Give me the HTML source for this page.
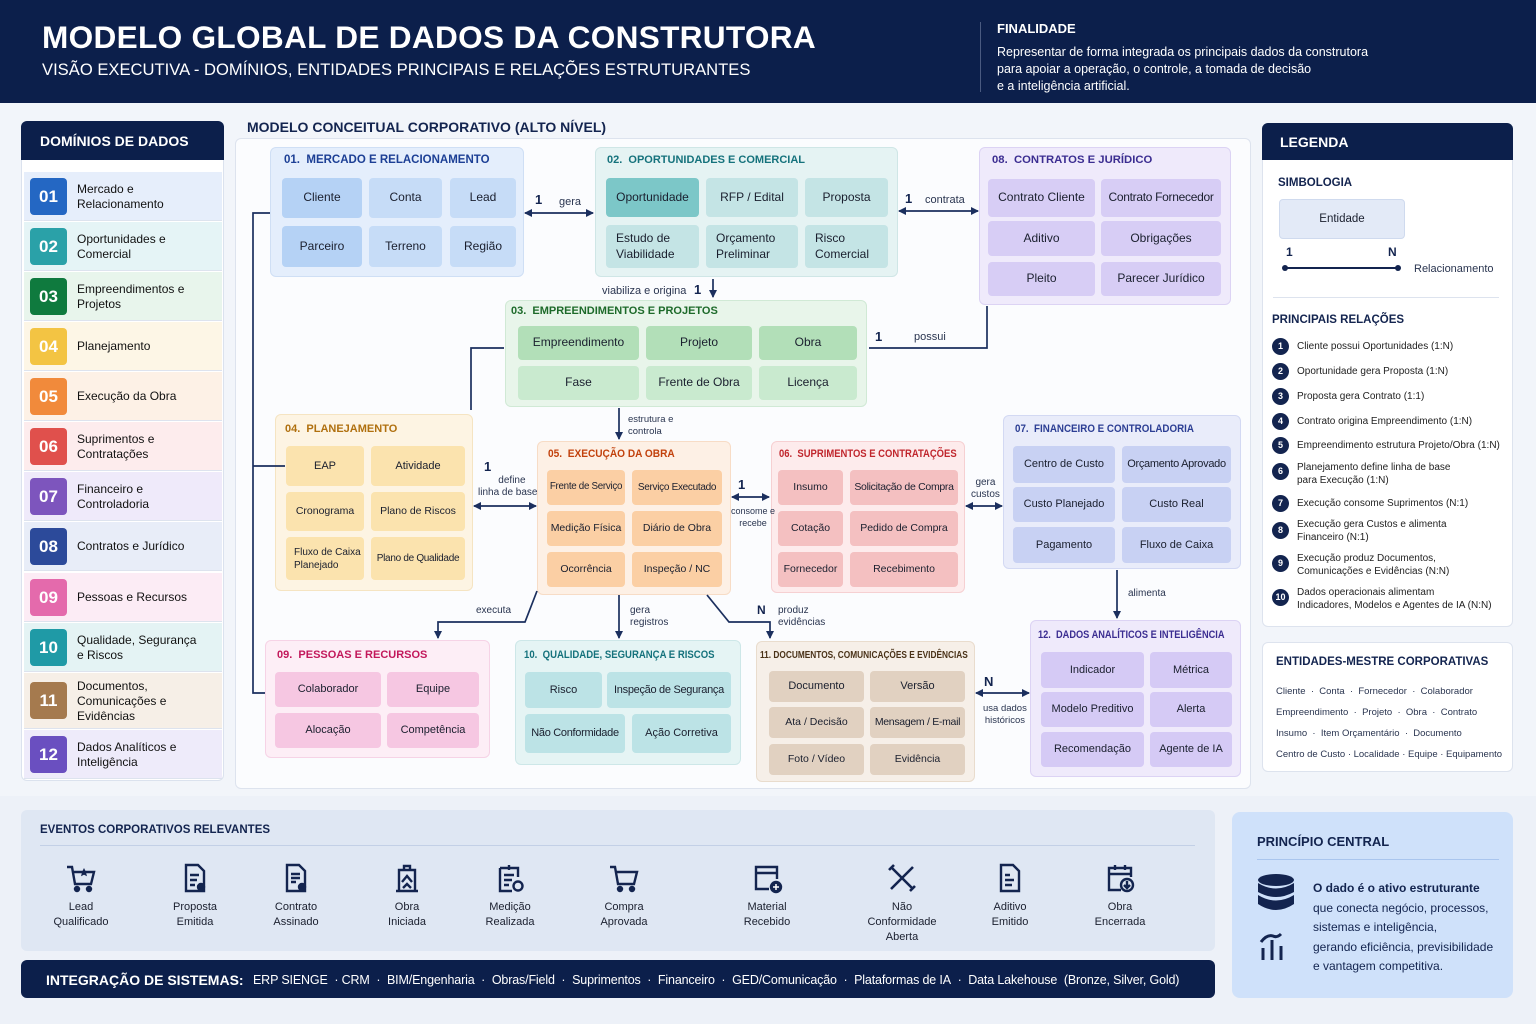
<!DOCTYPE html>
<html><head><meta charset="utf-8">
<style>
*{margin:0;padding:0;box-sizing:border-box}
body{width:1536px;height:1024px;position:relative;overflow:hidden;background:#f2f5fa;font-family:"Liberation Sans",sans-serif;color:#1a1f2e}
.a{position:absolute}
.e{position:absolute;display:flex;align-items:center;justify-content:center;text-align:center;border-radius:4px;font-size:12px;color:#1a1f2e;line-height:1.3}
.el{justify-content:flex-start;text-align:left;padding-left:10px}
.d{position:absolute;border-radius:6px}
.t{position:absolute;font-size:11px;font-weight:bold;white-space:nowrap;transform-origin:left center}
.lb{position:absolute;font-size:10px;color:#2a3550;line-height:12px;white-space:nowrap}
.n{position:absolute;font-size:13px;font-weight:bold;color:#13244f}
.row{position:absolute;left:24px;width:198px;height:49px;border-bottom:1px solid #dde3ee}
.num{position:absolute;left:6px;top:6px;width:37px;height:37px;border-radius:4px;color:#fff;font-weight:bold;font-size:17px;display:flex;align-items:center;justify-content:center}
.rt{position:absolute;left:53px;top:0;height:49px;display:flex;align-items:center;font-size:12px;color:#111;line-height:15px}
.ri{position:absolute;left:1272px;font-size:10px;color:#222;line-height:13px}
.ri b{position:absolute;left:0;width:17px;height:17px;border-radius:50%;background:#13244f;color:#fff;font-size:9px;display:flex;align-items:center;justify-content:center}
.ri span{position:absolute;left:25px;white-space:nowrap}
.ev{position:absolute;width:120px;text-align:center;font-size:11px;line-height:15px;color:#1a1f2e}
.ev svg{display:block;margin:0 auto 6px}
.nw{white-space:nowrap;letter-spacing:-0.3px}
</style></head><body>

<!-- Header -->
<div class="a" style="left:0;top:0;width:1536px;height:103px;background:#0c1f4b"></div>
<div class="a" style="left:42px;top:19px;font-size:31.6px;font-weight:bold;color:#fff;letter-spacing:0.3px">MODELO GLOBAL DE DADOS DA CONSTRUTORA</div>
<div class="a" style="left:42px;top:60px;font-size:16.6px;color:#fff">VISÃO EXECUTIVA - DOMÍNIOS, ENTIDADES PRINCIPAIS E RELAÇÕES ESTRUTURANTES</div>
<div class="a" style="left:980px;top:22px;width:1px;height:70px;background:#4a5a80"></div>
<div class="a" style="left:997px;top:21px;font-size:13px;font-weight:bold;color:#fff">FINALIDADE</div>
<div class="a" style="left:997px;top:44px;font-size:12.5px;color:#fff;line-height:17px">Representar de forma integrada os principais dados da construtora<br>para apoiar a operação, o controle, a tomada de decisão<br>e a inteligência artificial.</div>

<!-- Sidebar -->
<div class="d" style="left:21px;top:121px;width:203px;height:660px;background:#fff;border:1px solid #dbe2ee"></div>
<div class="a" style="left:21px;top:121px;width:203px;height:39px;background:#0c1f4b;border-radius:6px 6px 0 0"></div>
<div class="a" style="left:40px;top:133px;font-size:14px;font-weight:bold;color:#fff">DOMÍNIOS DE DADOS</div>

<div class="row" style="top:172px;background:#e6eefb"><div class="num" style="background:#2467c3">01</div><div class="rt">Mercado e<br>Relacionamento</div></div>
<div class="row" style="top:222px;background:#e5f4f6"><div class="num" style="background:#2aa1a8">02</div><div class="rt">Oportunidades e<br>Comercial</div></div>
<div class="row" style="top:272px;background:#e8f5ec"><div class="num" style="background:#0f7a3e">03</div><div class="rt">Empreendimentos e<br>Projetos</div></div>
<div class="row" style="top:322px;background:#fdf6e6"><div class="num" style="background:#f3c443">04</div><div class="rt">Planejamento</div></div>
<div class="row" style="top:372px;background:#fdf1e6"><div class="num" style="background:#f18a3b">05</div><div class="rt">Execução da Obra</div></div>
<div class="row" style="top:422px;background:#fdeced"><div class="num" style="background:#e0504c">06</div><div class="rt">Suprimentos e<br>Contratações</div></div>
<div class="row" style="top:472px;background:#efeafa"><div class="num" style="background:#7d55bd">07</div><div class="rt">Financeiro e<br>Controladoria</div></div>
<div class="row" style="top:522px;background:#e8edf8"><div class="num" style="background:#2c4a9a">08</div><div class="rt">Contratos e Jurídico</div></div>
<div class="row" style="top:573px;background:#fcecf5"><div class="num" style="background:#e46aac">09</div><div class="rt">Pessoas e Recursos</div></div>
<div class="row" style="top:623px;background:#e4f3f4"><div class="num" style="background:#1f9aa6">10</div><div class="rt">Qualidade, Segurança<br>e Riscos</div></div>
<div class="row" style="top:673px;height:56px;background:#f6efe7"><div class="num" style="background:#a57a4e;top:9px">11</div><div class="rt" style="height:56px">Documentos,<br>Comunicações e<br>Evidências</div></div>
<div class="row" style="top:730px;background:#eeebfa"><div class="num" style="background:#6a4fc0">12</div><div class="rt">Dados Analíticos e<br>Inteligência</div></div>

<!-- Central panel -->
<div class="a" style="left:247px;top:119px;font-size:14px;font-weight:bold;color:#13244f">MODELO CONCEITUAL CORPORATIVO (ALTO NÍVEL)</div>
<div class="d" style="left:235px;top:138px;width:1016px;height:651px;background:#fbfcfe;border:1px solid #dde3ee"></div>

<!-- 01 -->
<div class="d" style="left:270px;top:147px;width:254px;height:130px;background:#e4eefc;border:1px solid #cfdff5"></div>
<div class="t" style="left:284px;top:154px;color:#1c3f95;font-size:11.5px">01.&nbsp; MERCADO E RELACIONAMENTO</div>
<div class="e" style="left:282px;top:178px;width:80px;height:40px;background:#b5d2f5">Cliente</div>
<div class="e" style="left:369px;top:178px;width:73px;height:40px;background:#c6dcf7">Conta</div>
<div class="e" style="left:450px;top:178px;width:66px;height:40px;background:#c6dcf7">Lead</div>
<div class="e" style="left:282px;top:226px;width:80px;height:41px;background:#b5d2f5">Parceiro</div>
<div class="e" style="left:369px;top:226px;width:73px;height:41px;background:#c6dcf7">Terreno</div>
<div class="e" style="left:450px;top:226px;width:66px;height:41px;background:#c6dcf7">Região</div>

<!-- 02 -->
<div class="d" style="left:595px;top:147px;width:303px;height:130px;background:#e5f3f3;border:1px solid #cfe6e6"></div>
<div class="t" style="left:607px;top:154px;color:#15727c">02.&nbsp; OPORTUNIDADES E COMERCIAL</div>
<div class="e" style="left:606px;top:178px;width:93px;height:39px;background:#7cc7c8">Oportunidade</div>
<div class="e" style="left:706px;top:178px;width:92px;height:39px;background:#c4e4e5">RFP / Edital</div>
<div class="e" style="left:805px;top:178px;width:83px;height:39px;background:#c4e4e5">Proposta</div>
<div class="e el" style="left:606px;top:225px;width:93px;height:43px;background:#c4e4e5">Estudo de<br>Viabilidade</div>
<div class="e el" style="left:706px;top:225px;width:92px;height:43px;background:#c4e4e5">Orçamento<br>Preliminar</div>
<div class="e el" style="left:805px;top:225px;width:83px;height:43px;background:#c4e4e5">Risco<br>Comercial</div>

<!-- 08 -->
<div class="d" style="left:979px;top:147px;width:252px;height:158px;background:#efeafb;border:1px solid #dcd3f4"></div>
<div class="t" style="left:992px;top:154px;color:#3b2d91;font-size:11.3px">08.&nbsp; CONTRATOS E JURÍDICO</div>
<div class="e" style="left:988px;top:179px;width:107px;height:38px;background:#d7cdf5">Contrato Cliente</div>
<div class="e nw" style="left:1101px;top:179px;width:120px;height:38px;background:#d7cdf5">Contrato Fornecedor</div>
<div class="e" style="left:988px;top:221px;width:107px;height:35px;background:#d7cdf5">Aditivo</div>
<div class="e" style="left:1101px;top:221px;width:120px;height:35px;background:#d7cdf5">Obrigações</div>
<div class="e" style="left:988px;top:262px;width:107px;height:34px;background:#d7cdf5">Pleito</div>
<div class="e" style="left:1101px;top:262px;width:120px;height:34px;background:#d7cdf5">Parecer Jurídico</div>

<!-- 03 -->
<div class="d" style="left:505px;top:300px;width:362px;height:107px;background:#e8f5ea;border:1px solid #d0e9d5"></div>
<div class="t" style="left:511px;top:305px;color:#1d6a2a">03.&nbsp; EMPREENDIMENTOS E PROJETOS</div>
<div class="e" style="left:518px;top:326px;width:121px;height:34px;background:#b2dfb8">Empreendimento</div>
<div class="e" style="left:646px;top:326px;width:106px;height:34px;background:#b2dfb8">Projeto</div>
<div class="e" style="left:759px;top:326px;width:98px;height:34px;background:#b2dfb8">Obra</div>
<div class="e" style="left:518px;top:366px;width:121px;height:34px;background:#c9eacf">Fase</div>
<div class="e" style="left:646px;top:366px;width:106px;height:34px;background:#c9eacf">Frente de Obra</div>
<div class="e" style="left:759px;top:366px;width:98px;height:34px;background:#c9eacf">Licença</div>

<!-- 04 -->
<div class="d" style="left:275px;top:414px;width:198px;height:177px;background:#fdf4e3;border:1px solid #f5e4c2"></div>
<div class="t" style="left:285px;top:423px;color:#b0700f">04.&nbsp; PLANEJAMENTO</div>
<div class="e" style="left:286px;top:446px;width:78px;height:40px;background:#fbe3ae;font-size:11px">EAP</div>
<div class="e" style="left:371px;top:446px;width:94px;height:40px;background:#fbe3ae;font-size:11px">Atividade</div>
<div class="e" style="left:286px;top:492px;width:78px;height:39px;background:#fbe3ae;font-size:10.5px">Cronograma</div>
<div class="e" style="left:371px;top:492px;width:94px;height:39px;background:#fbe3ae;font-size:10.5px">Plano de Riscos</div>
<div class="e el" style="left:286px;top:537px;width:78px;height:43px;background:#fbe3ae;font-size:10px;padding-left:8px">Fluxo de Caixa<br>Planejado</div>
<div class="e nw" style="left:371px;top:537px;width:94px;height:43px;background:#fbe3ae;font-size:10px">Plano de Qualidade</div>

<!-- 05 -->
<div class="d" style="left:537px;top:441px;width:194px;height:154px;background:#fdf0e5;border:1px solid #f7dcc6"></div>
<div class="t" style="left:548px;top:448px;color:#c2410c;transform:scaleX(0.92)">05.&nbsp; EXECUÇÃO DA OBRA</div>
<div class="e nw" style="left:547px;top:470px;width:78px;height:35px;background:#fbcfa4;font-size:9.8px">Frente de Serviço</div>
<div class="e nw" style="left:632px;top:470px;width:90px;height:35px;background:#fbcfa4;font-size:10px">Serviço Executado</div>
<div class="e" style="left:547px;top:511px;width:78px;height:35px;background:#fbcfa4;font-size:10.5px">Medição Física</div>
<div class="e" style="left:632px;top:511px;width:90px;height:35px;background:#fbcfa4;font-size:10.5px">Diário de Obra</div>
<div class="e" style="left:547px;top:552px;width:78px;height:35px;background:#fbcfa4;font-size:10.5px">Ocorrência</div>
<div class="e" style="left:632px;top:552px;width:90px;height:35px;background:#fbcfa4;font-size:10.5px">Inspeção / NC</div>

<!-- 06 -->
<div class="d" style="left:771px;top:441px;width:194px;height:152px;background:#fdebec;border:1px solid #f6d0d2"></div>
<div class="t" style="left:779px;top:448px;color:#c0262d;transform:scaleX(0.86)">06.&nbsp; SUPRIMENTOS E CONTRATAÇÕES</div>
<div class="e" style="left:778px;top:470px;width:65px;height:35px;background:#f4c0c1;font-size:10.5px">Insumo</div>
<div class="e nw" style="left:850px;top:470px;width:108px;height:35px;background:#f4c0c1;font-size:10.5px">Solicitação de Compra</div>
<div class="e" style="left:778px;top:511px;width:65px;height:35px;background:#f4c0c1;font-size:10.5px">Cotação</div>
<div class="e" style="left:850px;top:511px;width:108px;height:35px;background:#f4c0c1;font-size:10.5px">Pedido de Compra</div>
<div class="e" style="left:778px;top:552px;width:65px;height:35px;background:#f4c0c1;font-size:10.5px">Fornecedor</div>
<div class="e" style="left:850px;top:552px;width:108px;height:35px;background:#f4c0c1;font-size:10.5px">Recebimento</div>

<!-- 07 -->
<div class="d" style="left:1003px;top:415px;width:238px;height:154px;background:#e9ecfa;border:1px solid #d3d9f3"></div>
<div class="t" style="left:1015px;top:423px;color:#2c3e94;transform:scaleX(0.89)">07.&nbsp; FINANCEIRO E CONTROLADORIA</div>
<div class="e" style="left:1013px;top:446px;width:102px;height:37px;background:#c8d1f3;font-size:11px">Centro de Custo</div>
<div class="e nw" style="left:1122px;top:446px;width:109px;height:37px;background:#c8d1f3;font-size:11px">Orçamento Aprovado</div>
<div class="e" style="left:1013px;top:487px;width:102px;height:35px;background:#c8d1f3;font-size:11px">Custo Planejado</div>
<div class="e" style="left:1122px;top:487px;width:109px;height:35px;background:#c8d1f3;font-size:11px">Custo Real</div>
<div class="e" style="left:1013px;top:527px;width:102px;height:36px;background:#c8d1f3;font-size:11px">Pagamento</div>
<div class="e" style="left:1122px;top:527px;width:109px;height:36px;background:#c8d1f3;font-size:11px">Fluxo de Caixa</div>

<!-- 09 -->
<div class="d" style="left:265px;top:640px;width:225px;height:118px;background:#fdeef6;border:1px solid #f6d3e6"></div>
<div class="t" style="left:277px;top:649px;color:#c2185b">09.&nbsp; PESSOAS E RECURSOS</div>
<div class="e" style="left:275px;top:672px;width:106px;height:35px;background:#f6c7e2;font-size:11px">Colaborador</div>
<div class="e" style="left:387px;top:672px;width:92px;height:35px;background:#f6c7e2;font-size:11px">Equipe</div>
<div class="e" style="left:275px;top:713px;width:106px;height:35px;background:#f6c7e2;font-size:11px">Alocação</div>
<div class="e" style="left:387px;top:713px;width:92px;height:35px;background:#f6c7e2;font-size:11px">Competência</div>

<!-- 10 -->
<div class="d" style="left:515px;top:640px;width:226px;height:125px;background:#e5f4f4;border:1px solid #cde7e8"></div>
<div class="t" style="left:524px;top:649px;color:#15727c;transform:scaleX(0.87)">10.&nbsp; QUALIDADE, SEGURANÇA E RISCOS</div>
<div class="e" style="left:525px;top:672px;width:77px;height:36px;background:#bce3e6;font-size:11px">Risco</div>
<div class="e nw" style="left:607px;top:672px;width:124px;height:36px;background:#bce3e6;font-size:11px">Inspeção de Segurança</div>
<div class="e nw" style="left:525px;top:714px;width:100px;height:39px;background:#bce3e6;font-size:11px">Não Conformidade</div>
<div class="e" style="left:632px;top:714px;width:99px;height:39px;background:#bce3e6;font-size:11px">Ação Corretiva</div>

<!-- 11 -->
<div class="d" style="left:756px;top:641px;width:219px;height:141px;background:#f6efe8;border:1px solid #e9dccd"></div>
<div class="t" style="left:760px;top:650px;color:#4a3218;font-size:10px;transform:scaleX(0.83)">11. DOCUMENTOS, COMUNICAÇÕES E EVIDÊNCIAS</div>
<div class="e" style="left:769px;top:671px;width:95px;height:31px;background:#e1d1c1;font-size:11px">Documento</div>
<div class="e" style="left:870px;top:671px;width:95px;height:31px;background:#e1d1c1;font-size:11px">Versão</div>
<div class="e" style="left:769px;top:707px;width:95px;height:31px;background:#e1d1c1;font-size:10.5px">Ata / Decisão</div>
<div class="e nw" style="left:870px;top:707px;width:95px;height:31px;background:#e1d1c1;font-size:10.5px">Mensagem / E-mail</div>
<div class="e" style="left:769px;top:744px;width:95px;height:31px;background:#e1d1c1;font-size:10.5px">Foto / Vídeo</div>
<div class="e" style="left:870px;top:744px;width:95px;height:31px;background:#e1d1c1;font-size:10.5px">Evidência</div>

<!-- 12 -->
<div class="d" style="left:1030px;top:620px;width:211px;height:157px;background:#efeafb;border:1px solid #dcd3f4"></div>
<div class="t" style="left:1038px;top:629px;color:#3b2d91;transform:scaleX(0.84)">12.&nbsp; DADOS ANALÍTICOS E INTELIGÊNCIA</div>
<div class="e" style="left:1041px;top:652px;width:103px;height:36px;background:#d5caf5;font-size:11px">Indicador</div>
<div class="e" style="left:1150px;top:652px;width:82px;height:36px;background:#d5caf5;font-size:11px">Métrica</div>
<div class="e" style="left:1041px;top:692px;width:103px;height:35px;background:#d5caf5;font-size:11px">Modelo Preditivo</div>
<div class="e" style="left:1150px;top:692px;width:82px;height:35px;background:#d5caf5;font-size:11px">Alerta</div>
<div class="e" style="left:1041px;top:732px;width:103px;height:35px;background:#d5caf5;font-size:11px">Recomendação</div>
<div class="e" style="left:1150px;top:732px;width:82px;height:35px;background:#d5caf5;font-size:11px">Agente de IA</div>

<!-- Connectors -->
<svg class="a" style="left:0;top:0" width="1536" height="1024" viewBox="0 0 1536 1024">
<defs>
<marker id="ar" markerWidth="8" markerHeight="8" refX="7" refY="4" orient="auto-start-reverse" markerUnits="userSpaceOnUse"><path d="M0,0 L8,4 L0,8 z" fill="#1b2f5e"/></marker>
</defs>
<g stroke="#1b2f5e" stroke-width="1.7" fill="none">
<line x1="525" y1="213" x2="593" y2="213" marker-start="url(#ar)" marker-end="url(#ar)"/>
<line x1="899" y1="211" x2="978" y2="211" marker-start="url(#ar)" marker-end="url(#ar)"/>
<line x1="713" y1="279" x2="713" y2="297" marker-end="url(#ar)"/>
<polyline points="987,306 987,348 869,348"/>
<polyline points="504,348 471,348 471,410"/>
<polyline points="270,213 253,213 253,693 265,693"/>
<line x1="253" y1="466" x2="285" y2="466"/>
<line x1="619" y1="408" x2="619" y2="439" marker-end="url(#ar)"/>
<line x1="474" y1="506" x2="536" y2="506" marker-start="url(#ar)" marker-end="url(#ar)"/>
<line x1="732" y1="497" x2="769" y2="497" marker-start="url(#ar)" marker-end="url(#ar)"/>
<line x1="966" y1="506" x2="1002" y2="506" marker-start="url(#ar)" marker-end="url(#ar)"/>
<line x1="1117" y1="570" x2="1117" y2="618" marker-end="url(#ar)"/>
<line x1="976" y1="693" x2="1029" y2="693" marker-start="url(#ar)" marker-end="url(#ar)"/>
<polyline points="537,591 525,622 438,622 438,638" marker-end="url(#ar)"/>
<line x1="619" y1="595" x2="619" y2="638" marker-end="url(#ar)"/>
<polyline points="707,595 729,622 770,622 770,638" marker-end="url(#ar)"/>
</g>
</svg>
<div class="n" style="left:535px;top:192px">1</div>
<div class="lb" style="left:559px;top:196px;font-size:11px">gera</div>
<div class="n" style="left:905px;top:191px">1</div>
<div class="lb" style="left:925px;top:194px;font-size:11px">contrata</div>
<div class="lb" style="left:602px;top:285px;font-size:11px">viabiliza e origina</div>
<div class="n" style="left:694px;top:282px">1</div>
<div class="n" style="left:875px;top:329px">1</div>
<div class="lb" style="left:914px;top:331px;font-size:11px">possui</div>
<div class="lb" style="left:628px;top:414px;font-size:9.5px">estrutura e<br>controla</div>
<div class="n" style="left:484px;top:459px">1</div>
<div class="lb" style="left:478px;top:475px;text-align:center">&nbsp;&nbsp;&nbsp;define<br>linha de base</div>
<div class="n" style="left:738px;top:477px">1</div>
<div class="lb" style="left:731px;top:505px;font-size:9px;text-align:center">consome e<br>recebe</div>
<div class="lb" style="left:971px;top:477px;text-align:center">gera<br>custos</div>
<div class="lb" style="left:1128px;top:588px">alimenta</div>
<div class="n" style="left:984px;top:674px">N</div>
<div class="lb" style="left:983px;top:703px;font-size:9.5px;text-align:center">usa dados<br>históricos</div>
<div class="lb" style="left:476px;top:605px">executa</div>
<div class="lb" style="left:630px;top:605px">gera<br>registros</div>
<div class="n" style="left:757px;top:603px;font-size:12px">N</div>
<div class="lb" style="left:778px;top:605px">produz<br>evidências</div>

<!-- Legend -->
<div class="d" style="left:1262px;top:123px;width:251px;height:504px;background:#fff;border:1px solid #dde3ee"></div>
<div class="a" style="left:1262px;top:123px;width:251px;height:37px;background:#0c1f4b;border-radius:6px 6px 0 0"></div>
<div class="a" style="left:1280px;top:134px;font-size:14px;font-weight:bold;color:#fff">LEGENDA</div>
<div class="t" style="left:1278px;top:177px;color:#13244f;font-size:11.5px">SIMBOLOGIA</div>
<div class="e" style="left:1279px;top:199px;width:126px;height:40px;background:#e3eaf7;border:1px solid #cfdaee;font-size:11.5px">Entidade</div>
<div class="n" style="left:1286px;top:245px;font-size:12px">1</div>
<div class="n" style="left:1388px;top:245px;font-size:12px">N</div>
<div class="a" style="left:1285px;top:267px;width:113px;height:2px;background:#13244f"></div>
<div class="a" style="left:1282px;top:265px;width:6px;height:6px;border-radius:50%;background:#13244f"></div>
<div class="a" style="left:1395px;top:265px;width:6px;height:6px;border-radius:50%;background:#13244f"></div>
<div class="lb" style="left:1414px;top:263px;font-size:11px">Relacionamento</div>
<div class="a" style="left:1273px;top:297px;width:226px;height:1px;background:#dde3ee"></div>
<div class="t" style="left:1272px;top:314px;color:#13244f;font-size:11.5px">PRINCIPAIS RELAÇÕES</div>
<div class="ri" style="top:338px"><b>1</b><span style="top:2px">Cliente possui Oportunidades (1:N)</span></div>
<div class="ri" style="top:363px"><b>2</b><span style="top:2px">Oportunidade gera Proposta (1:N)</span></div>
<div class="ri" style="top:388px"><b>3</b><span style="top:2px">Proposta gera Contrato (1:1)</span></div>
<div class="ri" style="top:413px"><b>4</b><span style="top:2px">Contrato origina Empreendimento (1:N)</span></div>
<div class="ri" style="top:437px"><b>5</b><span style="top:2px">Empreendimento estrutura Projeto/Obra (1:N)</span></div>
<div class="ri" style="top:463px"><b>6</b><span style="top:-2px">Planejamento define linha de base<br>para Execução (1:N)</span></div>
<div class="ri" style="top:495px"><b>7</b><span style="top:2px">Execução consome Suprimentos (N:1)</span></div>
<div class="ri" style="top:522px"><b>8</b><span style="top:-4px">Execução gera Custos e alimenta<br>Financeiro (N:1)</span></div>
<div class="ri" style="top:555px"><b>9</b><span style="top:-3px">Execução produz Documentos,<br>Comunicações e Evidências (N:N)</span></div>
<div class="ri" style="top:589px"><b>10</b><span style="top:-3px">Dados operacionais alimentam<br>Indicadores, Modelos e Agentes de IA (N:N)</span></div>

<div class="d" style="left:1262px;top:642px;width:251px;height:130px;background:#fff;border:1px solid #dde3ee"></div>
<div class="t" style="left:1276px;top:656px;color:#13244f;font-size:11.5px">ENTIDADES-MESTRE CORPORATIVAS</div>
<div class="lb" style="left:1276px;top:686px;font-size:9.5px">Cliente &nbsp;·&nbsp; Conta &nbsp;·&nbsp; Fornecedor &nbsp;·&nbsp; Colaborador</div>
<div class="lb" style="left:1276px;top:707px;font-size:9.5px">Empreendimento &nbsp;·&nbsp; Projeto &nbsp;·&nbsp; Obra &nbsp;·&nbsp; Contrato</div>
<div class="lb" style="left:1276px;top:728px;font-size:9.5px">Insumo &nbsp;·&nbsp; Item Orçamentário &nbsp;·&nbsp; Documento</div>
<div class="lb" style="left:1276px;top:749px;font-size:9.5px">Centro de Custo · Localidade · Equipe · Equipamento</div>

<!-- Bottom -->
<div class="a" style="left:0;top:796px;width:1536px;height:228px;background:#edf1f8"></div>
<div class="d" style="left:21px;top:810px;width:1194px;height:141px;background:#dfe7f3"></div>
<div class="t" style="left:40px;top:824px;color:#13244f;font-size:11.5px">EVENTOS CORPORATIVOS RELEVANTES</div>
<div class="a" style="left:40px;top:845px;width:1155px;height:1px;background:#c3d0e6"></div>

<div class="ev" style="left:21px;top:862px"><svg width="32" height="32" viewBox="0 0 32 32" fill="none" stroke="#13244f" stroke-width="2.4"><path d="M2,5 H7 L10,22 H26 L29,10 H9"/><circle cx="12" cy="27" r="2" fill="#13244f"/><circle cx="24" cy="27" r="2" fill="#13244f"/><path d="M19,6 l1.5,3 3,0.3 -2.3,2 0.8,3 -3-1.6 -3,1.6 0.8-3 -2.3-2 3-0.3z" fill="#13244f" stroke="none"/></svg>Lead<br>Qualificado</div>
<div class="ev" style="left:135px;top:862px"><svg width="32" height="32" viewBox="0 0 32 32" fill="none" stroke="#13244f" stroke-width="2.4"><path d="M7,3 H19 L25,9 V29 H7 Z"/><path d="M11,13 H20 M11,18 H18 M11,23 H16"/><circle cx="22" cy="25" r="3" fill="#13244f"/></svg>Proposta<br>Emitida</div>
<div class="ev" style="left:236px;top:862px"><svg width="32" height="32" viewBox="0 0 32 32" fill="none" stroke="#13244f" stroke-width="2.4"><path d="M7,3 H19 L25,9 V29 H7 Z"/><path d="M11,12 H20 M11,16 H20 M11,20 H16"/><circle cx="22" cy="25" r="3" fill="#13244f"/></svg>Contrato<br>Assinado</div>
<div class="ev" style="left:347px;top:862px"><svg width="32" height="32" viewBox="0 0 32 32" fill="none" stroke="#13244f" stroke-width="2.4"><path d="M5,29 H27 M8,29 V8 H24 V29 M13,8 V4 H19 V8 M11,20 L16,14 L21,20 M12,26 L16,22 L20,26"/></svg>Obra<br>Iniciada</div>
<div class="ev" style="left:450px;top:862px"><svg width="32" height="32" viewBox="0 0 32 32" fill="none" stroke="#13244f" stroke-width="2.4"><path d="M6,6 H24 V15 M6,6 V29 H18 M10,13 H20 M10,18 H18 M10,23 H15 M15,3 V8"/><circle cx="24" cy="24" r="4.5"/></svg>Medição<br>Realizada</div>
<div class="ev" style="left:564px;top:862px"><svg width="32" height="32" viewBox="0 0 32 32" fill="none" stroke="#13244f" stroke-width="2.4"><path d="M2,5 H7 L10,22 H26 L29,10 H8"/><circle cx="12" cy="27" r="2" fill="#13244f"/><circle cx="24" cy="27" r="2" fill="#13244f"/></svg>Compra<br>Aprovada</div>
<div class="ev" style="left:707px;top:862px"><svg width="32" height="32" viewBox="0 0 32 32" fill="none" stroke="#13244f" stroke-width="2.4"><path d="M18,27 H5 V5 H26 V17 M5,11 H26"/><circle cx="25" cy="25" r="5" fill="#13244f"/><path d="M25,22 V28 M22,25 H28" stroke="#fff" stroke-width="1.5"/></svg>Material<br>Recebido</div>
<div class="ev" style="left:842px;top:862px"><svg width="32" height="32" viewBox="0 0 32 32" fill="none" stroke="#13244f" stroke-width="2.6"><path d="M5,27 L27,5 M5,5 L27,27 M3,8 L8,3 M24,29 L29,24"/></svg>Não<br>Conformidade<br>Aberta</div>
<div class="ev" style="left:950px;top:862px"><svg width="32" height="32" viewBox="0 0 32 32" fill="none" stroke="#13244f" stroke-width="2.4"><path d="M7,3 H19 L25,9 V29 H7 Z"/><path d="M11,13 H16 M11,18 H20 M11,23 H18"/></svg>Aditivo<br>Emitido</div>
<div class="ev" style="left:1060px;top:862px"><svg width="32" height="32" viewBox="0 0 32 32" fill="none" stroke="#13244f" stroke-width="2.4"><path d="M17,28 H5 V6 H27 V15 M5,12 H27 M11,3 V8 M21,3 V8"/><circle cx="23" cy="23" r="6"/><path d="M23,19 V26 M20,23 L23,26 L26,23"/></svg>Obra<br>Encerrada</div>

<div class="d" style="left:21px;top:960px;width:1194px;height:38px;background:#0c1f4b"></div>
<div class="a" style="left:46px;top:972px;font-size:14px;font-weight:bold;color:#fff">INTEGRAÇÃO DE SISTEMAS:</div>
<div class="a" style="left:253px;top:973px;font-size:12.5px;color:#fff;white-space:nowrap;letter-spacing:-0.15px">ERP SIENGE &nbsp;·&nbsp;CRM&nbsp; ·&nbsp; BIM/Engenharia&nbsp; ·&nbsp; Obras/Field&nbsp; ·&nbsp; Suprimentos&nbsp; ·&nbsp; Financeiro&nbsp; ·&nbsp; GED/Comunicação&nbsp; ·&nbsp; Plataformas de IA&nbsp; ·&nbsp; Data Lakehouse&nbsp; (Bronze, Silver, Gold)</div>

<div class="d" style="left:1232px;top:812px;width:281px;height:186px;background:#cfe1fa;border-radius:8px"></div>
<div class="t" style="left:1257px;top:834px;color:#13244f;font-size:13px">PRINCÍPIO CENTRAL</div>
<div class="a" style="left:1257px;top:859px;width:242px;height:1px;background:#a9c5ee"></div>
<svg class="a" style="left:1257px;top:874px" width="40" height="92" viewBox="0 0 40 92">
<ellipse cx="19" cy="6" rx="18" ry="6" fill="#13244f"/>
<path d="M1,9 Q19,20 37,9 V18 Q19,28 1,18Z M1,21 Q19,32 37,21 V30 Q19,42 1,30Z" fill="#13244f"/>
<g stroke="#13244f" stroke-width="3" fill="none"><path d="M6,86 V74 M15,86 V66 M24,86 V72 M4,68 Q10,60 16,62 Q20,64 24,60"/></g>
</svg>
<div class="a" style="left:1313px;top:879px;font-size:12px;line-height:19.5px;color:#13244f"><b>O dado é o ativo estruturante</b><br>que conecta negócio, processos,<br>sistemas e inteligência,<br>gerando eficiência, previsibilidade<br>e vantagem competitiva.</div>

</body></html>
